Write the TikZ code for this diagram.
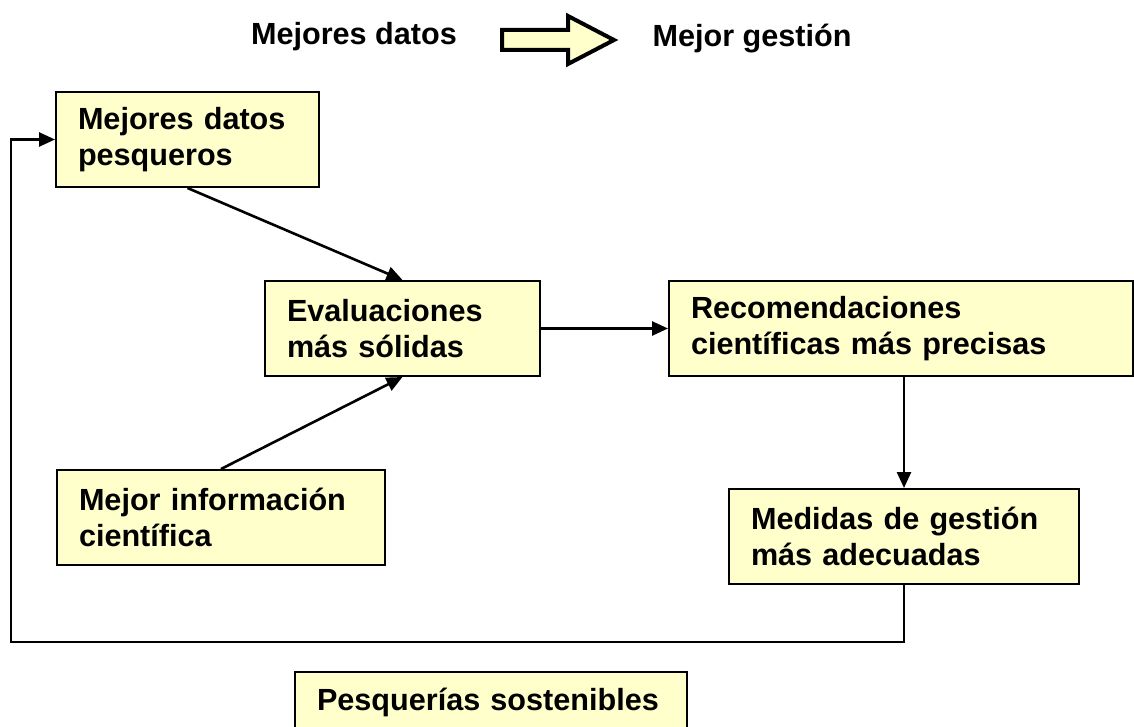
\documentclass[tikz,border=0pt]{standalone}
\usepackage{fontspec}
\setmainfont{Liberation Sans}
\usetikzlibrary{arrows.meta}
\definecolor{boxfill}{RGB}{255,255,204}
\tikzset{
  box/.style={draw, fill=boxfill, line width=1pt, anchor=north west, align=left,
    inner xsep=11pt, inner ysep=0pt, minimum height=47.5pt,
    font=\bfseries\fontsize{15.3}{18}\selectfont},
  toptext/.style={anchor=base, font=\bfseries\fontsize{15.3}{18}\selectfont}
}
\begin{document}
\begin{tikzpicture}[x=0.5pt, y=-0.5pt]
  \useasboundingbox (0,0) rectangle (1134,727);
  \draw
    (354,45) node[toptext] (datos) {Mejores datos}
    (752,47) node[toptext] (gestion) {Mejor gestión}
    (55,91) node[box, text width=109.5pt] (pesqueros) {Mejores datos\\pesqueros}
    (264,280) node[box, text width=115.5pt] (evaluaciones) {Evaluaciones\\más sólidas}
    (668,280) node[box, text width=210pt] (recomendaciones) {Recomendaciones\\científicas más precisas}
    (56,469) node[box, text width=142pt] (informacion) {Mejor información\\científica}
    (728,488) node[box, text width=153pt] (medidas) {Medidas de gestión\\más adecuadas}
    (294,671) node[box, text width=174pt, minimum height=30pt] (sostenibles) {Pesquerías sostenibles};
  \draw[fill=boxfill, line width=2pt, line join=miter]
    (502,30) -- (568,30) -- (568,16) -- (614,40) -- (568,64) -- (568,50) -- (502,50) -- cycle;
  \coordinate (vuelta) at (11,642);
  \begin{scope}[line width=1.3pt, -{Triangle[length=8pt, width=7pt]}]
    \draw (pesqueros.south) to (evaluaciones.north);
    \draw (informacion.north) to (evaluaciones.south);
    \draw (evaluaciones.east) to (recomendaciones.west);
    \draw (medidas.north |- recomendaciones.south) to (medidas.north);
    \draw (medidas.south) |- (vuelta) |- (pesqueros.west);
  \end{scope}
\end{tikzpicture}
\end{document}
